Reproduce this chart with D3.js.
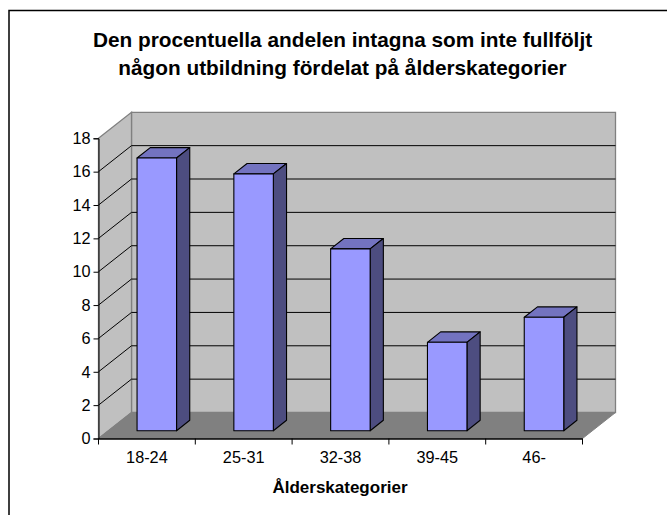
<!DOCTYPE html>
<html>
<head>
<meta charset="utf-8">
<script src="https://cdn.jsdelivr.net/npm/d3@7"></script>
<style>
  html, body { margin: 0; padding: 0; background: #fff; overflow: hidden; }
  svg { display: block; }
  text { font-family: "Liberation Sans", Arial, sans-serif; fill: #000; }
</style>
</head>
<body>
<script>
// Data
var categories = ["18-24", "25-31", "32-38", "39-45", "46-"];
var values = [16.35, 15.4, 10.9, 5.3, 6.8];
var yTicks = [0, 2, 4, 6, 8, 10, 12, 14, 16, 18];
var titleLines = ["Den procentuella andelen intagna som inte fullföljt",
                  "någon utbildning fördelat på ålderskategorier"];
var xTitle = "Ålderskategorier";

var w = 667;
var h = 515;

var svg = d3.select("body")
  .append("svg")
  .attr("width", w)
  .attr("height", h);

// chart frame, runs off the right and bottom of the picture
svg.append("rect")
  .attr("x", 9).attr("y", 10.5)
  .attr("width", 700).attr("height", 540)
  .attr("fill", "#fff").attr("stroke", "#000").attr("stroke-width", 1.5);

// scales of the front plane
var x = d3.scaleBand().domain(categories).range([98.5, 582.5]);
var y = d3.scaleLinear().domain([0, 18]).range([438.5, 138.3]);

// depth of the box
var depthX = 33;
var depthY = -26;
var barFront = 0.3;
var barDepth = 0.4;
var gapShare = 0.296;

function pts(list) {
  return list.map(function(p) { return p[0] + "," + p[1]; }).join(" ");
}

var x0 = x.range()[0], x1 = x.range()[1], y0 = y(0), yT = y(18);
var wallGrey = "#c0c0c0", wallEdge = "#808080", floorGrey = "#808080";

// walls and floor
svg.append("polygon")
  .attr("points", pts([[x0 + depthX, yT + depthY], [x1 + depthX, yT + depthY], [x1 + depthX, y0 + depthY], [x0 + depthX, y0 + depthY]]))
  .attr("fill", wallGrey).attr("stroke", wallEdge).attr("stroke-width", 1.3);
svg.append("polygon")
  .attr("points", pts([[x0, yT], [x0 + depthX, yT + depthY], [x0 + depthX, y0 + depthY], [x0, y0]]))
  .attr("fill", wallGrey).attr("stroke", wallEdge).attr("stroke-width", 1.3);
svg.append("polygon")
  .attr("points", pts([[x0, y0], [x0 + depthX, y0 + depthY], [x1 + depthX, y0 + depthY], [x1, y0]]))
  .attr("fill", floorGrey).attr("stroke", wallEdge).attr("stroke-width", 1);

// gridlines
var grid = yTicks.filter(function(d) { return d > 0 && d < 18; });
svg.selectAll(".gridSide").data(grid).enter().append("line")
  .attr("x1", x0).attr("y1", function(d) { return y(d); })
  .attr("x2", x0 + depthX).attr("y2", function(d) { return y(d) + depthY; })
  .attr("stroke", "#000").attr("stroke-width", 1);
svg.selectAll(".gridBack").data(grid).enter().append("line")
  .attr("x1", x0 + depthX).attr("y1", function(d) { return y(d) + depthY; })
  .attr("x2", x1 + depthX).attr("y2", function(d) { return y(d) + depthY; })
  .attr("stroke", "#000").attr("stroke-width", 1);

// bars
var bars = svg.selectAll(".bar").data(values).enter().append("g").attr("class", "bar");

function barLeft(d, i) { return x(categories[i]) + x.bandwidth() * gapShare + depthX * barFront; }
function barRight(d, i) { return x(categories[i]) + x.bandwidth() * (1 - gapShare) + depthX * barFront; }
function barTop(d) { return y(d) + depthY * barFront; }
var barBase = y(0) + depthY * barFront;
var dx = depthX * barDepth, dy = depthY * barDepth;

bars.append("polygon")
  .attr("points", function(d, i) {
    var l = barLeft(d, i), r = barRight(d, i), t = barTop(d);
    return pts([[l, t], [l + dx, t + dy], [r + dx, t + dy], [r, t]]);
  })
  .attr("fill", "#7373c0");
bars.append("polygon")
  .attr("points", function(d, i) {
    var r = barRight(d, i), t = barTop(d);
    return pts([[r, t], [r + dx, t + dy], [r + dx, barBase + dy], [r, barBase]]);
  })
  .attr("fill", "#4d4d80");
bars.append("polygon")
  .attr("points", function(d, i) {
    var l = barLeft(d, i), r = barRight(d, i), t = barTop(d);
    return pts([[l, t], [r, t], [r, barBase], [l, barBase]]);
  })
  .attr("fill", "#9999ff");
bars.selectAll("polygon")
  .attr("stroke", "#000").attr("stroke-width", 1.1).attr("stroke-linejoin", "round");

// axes
var yAxis = d3.axisLeft(y).tickValues(yTicks).tickSize(5).tickPadding(3);
var yG = svg.append("g").attr("transform", "translate(" + x0 + ",0)").call(yAxis);
yG.select(".domain").attr("stroke", "#000");
yG.selectAll("text").style("font-size", "16.3px").style("font-family", '"Liberation Sans", Arial, sans-serif');

var xAxis = d3.axisBottom(x).tickValues(categories).tickSize(0).tickPadding(13);
var xG = svg.append("g").attr("transform", "translate(0," + y0 + ")").call(xAxis);
xG.select(".domain").attr("d", "M" + x0 + ",0.5H" + x1).attr("stroke", "#000").attr("stroke-width", 1.3);
xG.selectAll("text").style("font-size", "16.3px").style("font-family", '"Liberation Sans", Arial, sans-serif');

// x ticks sit on the category borders
svg.selectAll(".xTick").data(d3.range(categories.length + 1)).enter().append("line")
  .attr("x1", function(d) { return x0 + d * x.step(); })
  .attr("x2", function(d) { return x0 + d * x.step(); })
  .attr("y1", y0).attr("y2", y0 + 6)
  .attr("stroke", "#000");

// titles
svg.selectAll(".title").data(titleLines).enter().append("text")
  .attr("x", 342.5)
  .attr("y", function(d, i) { return 46.7 + i * 28.2; })
  .attr("text-anchor", "middle")
  .attr("font-weight", "bold")
  .attr("font-size", "20.8px")
  .text(function(d) { return d; });

svg.append("text")
  .attr("x", 340).attr("y", 492.7)
  .attr("text-anchor", "middle")
  .attr("font-weight", "bold")
  .attr("font-size", "17px")
  .text(xTitle);
</script>
</body>
</html>
